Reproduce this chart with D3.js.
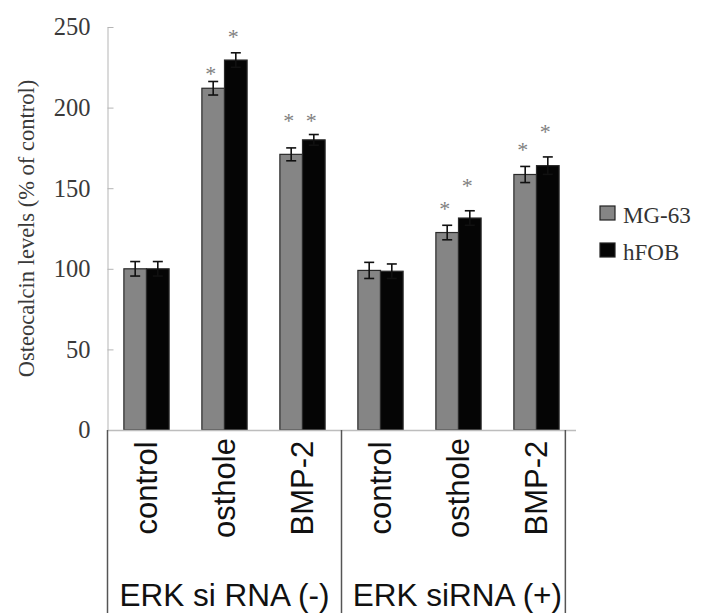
<!DOCTYPE html>
<html>
<head>
<meta charset="utf-8">
<script src="https://cdn.jsdelivr.net/npm/d3@7/dist/d3.min.js"></script>
<style>
  body { margin: 0; background: #fff; }
</style>
</head>
<body>
<div id="chart"></div>
<script>
// data
const categories = ["g1-control", "g1-osthole", "g1-BMP-2", "g2-control", "g2-osthole", "g2-BMP-2"];
const catLabels = ["control", "osthole", "BMP-2", "control", "osthole", "BMP-2"];
const groups = ["ERK si RNA (-)", "ERK siRNA (+)"];
const series = ["MG-63", "hFOB"];
const mg63 = [100, 212, 171, 99, 122.5, 158.5];
const hfob = [100, 229.5, 180, 98.5, 131.5, 164];
const mg63Err = [4.5, 4.2, 4, 5, 4.5, 5];
const hfobErr = [4.5, 4.5, 3.3, 4.5, 4.5, 5.4];
// where the significance stars sit (in y units), null = no star
const mg63Star = [null, 224, 194.5, null, 140, 177];
const hfobStar = [null, 247, 194.5, null, 154.5, 188];
const yTicks = [0, 50, 100, 150, 200, 250];

const width = 705, height = 613;
const svg = d3.select("#chart").append("svg")
    .attr("width", width)
    .attr("height", height);

const x = d3.scaleBand()
    .domain(categories)
    .range([107.5, 575.5])
    .paddingInner(0.42)
    .paddingOuter(0.21);
const xs = d3.scaleBand()
    .domain(series)
    .range([0, x.bandwidth()]);
const y = d3.scaleLinear()
    .domain([0, 250])
    .range([430, 27]);

const colors = { "MG-63": "#858585", "hFOB": "#050505" };

// y axis
svg.append("g")
    .attr("transform", `translate(${x.range()[0]},0)`)
    .call(d3.axisLeft(y).tickValues(yTicks).tickSize(-6).tickSizeOuter(0).tickPadding(17))
    .call(g => g.select(".domain").attr("stroke", "#b5b5b5"))
    .call(g => g.selectAll(".tick line").attr("stroke", "#b5b5b5"))
    .call(g => g.selectAll(".tick text")
        .attr("fill", "#3a3a3a")
        .attr("font-family", "Liberation Serif")
        .attr("font-size", 24.5));

svg.append("text")
    .attr("transform", `translate(34,${(y(0) + y(250)) / 2}) rotate(-90)`)
    .attr("text-anchor", "middle")
    .attr("font-family", "Liberation Serif")
    .attr("font-size", 22.5)
    .attr("fill", "#3a3a3a")
    .text("Osteocalcin levels (% of control)");

// bars
const rows = categories.map((c, i) => ({
    cat: c,
    vals: [
        { s: "MG-63", v: mg63[i], e: mg63Err[i], star: mg63Star[i] },
        { s: "hFOB", v: hfob[i], e: hfobErr[i], star: hfobStar[i] }
    ]
}));

const grp = svg.append("g").selectAll("g")
    .data(rows)
    .join("g")
    .attr("transform", d => `translate(${x(d.cat)},0)`);

grp.selectAll("rect")
    .data(d => d.vals)
    .join("rect")
    .attr("x", d => xs(d.s))
    .attr("y", d => y(d.v))
    .attr("width", xs.bandwidth())
    .attr("height", d => y(0) - y(d.v))
    .attr("fill", d => colors[d.s])
    .attr("stroke", "#2a2a2a")
    .attr("stroke-width", 1.2);

// error bars
const err = grp.selectAll("g.err")
    .data(d => d.vals)
    .join("g")
    .attr("class", "err")
    .attr("stroke", "#111")
    .attr("stroke-width", 1.6);
err.append("line")
    .attr("x1", d => xs(d.s) + xs.bandwidth() / 2)
    .attr("x2", d => xs(d.s) + xs.bandwidth() / 2)
    .attr("y1", d => y(d.v + d.e))
    .attr("y2", d => y(d.v - d.e));
err.append("line")
    .attr("x1", d => xs(d.s) + xs.bandwidth() / 2 - 5)
    .attr("x2", d => xs(d.s) + xs.bandwidth() / 2 + 5)
    .attr("y1", d => y(d.v + d.e))
    .attr("y2", d => y(d.v + d.e));
err.append("line")
    .attr("x1", d => xs(d.s) + xs.bandwidth() / 2 - 5)
    .attr("x2", d => xs(d.s) + xs.bandwidth() / 2 + 5)
    .attr("y1", d => y(d.v - d.e))
    .attr("y2", d => y(d.v - d.e));

// stars
grp.selectAll("text.star")
    .data(d => d.vals.filter(v => v.star != null))
    .join("text")
    .attr("class", "star")
    .attr("x", d => xs(d.s) + xs.bandwidth() / 2 - 2.5)
    .attr("y", d => y(d.star) + 12)
    .attr("text-anchor", "middle")
    .attr("font-family", "Liberation Serif")
    .attr("font-size", 22)
    .attr("fill", "#808080")
    .text("*");

// x axis line
svg.append("g")
    .attr("transform", `translate(0,${y(0)})`)
    .call(d3.axisBottom(x).tickSize(0).tickFormat(""))
    .call(g => g.select(".domain").attr("stroke", "#bdbdbd").attr("stroke-width", 1.3));

// table below the axis
const rightEdge = x(categories[5]) + x.bandwidth() + x.step() * 0.08;
const midEdge = x(categories[3]) - x.step() * x.paddingInner() / 2;
const tableX = [x.range()[0], midEdge, rightEdge];
svg.append("g").selectAll("line")
    .data(tableX)
    .join("line")
    .attr("x1", d => d).attr("x2", d => d)
    .attr("y1", y(0)).attr("y2", height)
    .attr("stroke", "#555")
    .attr("stroke-width", 1.5);

svg.append("g").selectAll("text")
    .data(categories)
    .join("text")
    .attr("transform", (d, i) => `translate(${x(d) + x.bandwidth() / 2 + 10},488) rotate(-90)`)
    .attr("text-anchor", "middle")
    .attr("font-family", "Liberation Sans")
    .attr("font-size", 31)
    .attr("fill", "#111")
    .text((d, i) => catLabels[i]);

svg.append("g").selectAll("text")
    .data(groups)
    .join("text")
    .attr("x", (d, i) => (tableX[i] + tableX[i + 1]) / 2 + (i ? 4 : 0))
    .attr("y", 606)
    .attr("text-anchor", "middle")
    .attr("font-family", "Liberation Sans")
    .attr("font-size", 31.5)
    .attr("fill", "#111")
    .text(d => d);

// legend
const legend = svg.append("g").selectAll("g")
    .data(series)
    .join("g")
    .attr("transform", (d, i) => `translate(600,${206 + i * 37})`);
legend.append("rect")
    .attr("width", 15)
    .attr("height", 14)
    .attr("fill", d => colors[d])
    .attr("stroke", "#222")
    .attr("stroke-width", 1.2);
legend.append("text")
    .attr("x", 23)
    .attr("y", 16.5)
    .attr("font-family", "Liberation Serif")
    .attr("font-size", 23)
    .attr("fill", "#333")
    .text(d => d);
</script>
</body>
</html>
